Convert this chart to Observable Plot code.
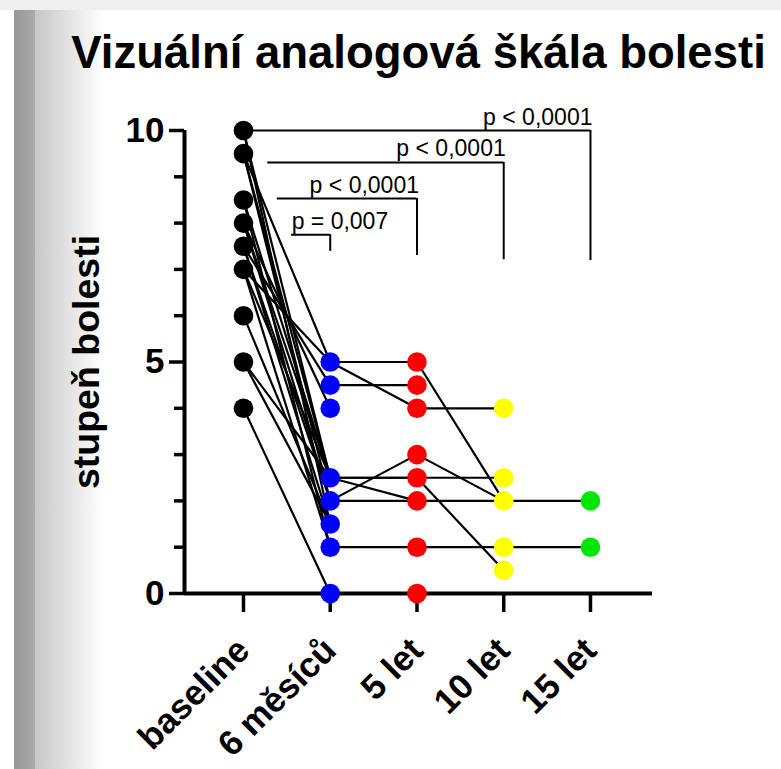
<!DOCTYPE html>
<html><head><meta charset="utf-8">
<script src="https://cdn.jsdelivr.net/npm/d3@7"></script>
<script src="https://cdn.jsdelivr.net/npm/@observablehq/plot@0.6"></script>
<style>
html,body{margin:0;padding:0;background:#fff;}
#wrap{position:relative;width:781px;height:769px;overflow:hidden;}
#top{position:absolute;left:0;top:0;width:781px;height:10px;background:#efefef;}
#shadow{position:absolute;left:14px;top:10px;width:95px;height:759px;background:linear-gradient(to right,#979797 0px,#a9a9a9 21px,#c7c7c7 21px,#ffffff 90px);}
#chart{position:absolute;left:0;top:0;}
#chart svg text{font-family:"Liberation Sans",Arial,sans-serif;}
#chart svg g[aria-label="x-axis tick label"] text,#chart svg g[aria-label="y-axis tick label"] text{font-weight:bold;}
</style></head><body>
<div id="wrap"><div id="top"></div><div id="shadow"></div><div id="chart"></div></div>
<script>
const categories = ["baseline", "6 měsíců", "5 let", "10 let", "15 let"];
const dotColors = ["#000000", "#0000ff", "#ff0000", "#ffff00", "#00e600"];
const title = "Vizuální analogová škála bolesti";
const yLabel = "stupeň bolesti";
const yMajorTicks = [0, 5, 10];
const yMinorTicks = [1, 2, 3, 4, 6, 7, 8, 9];
// each subject: values at baseline, 6 měsíců, 5 let, 10 let, 15 let (null = missing)
const subjects = [
  [10, 2.5, 2.5, 2.5, null],
  [10, 1.5, null, null, null],
  [9.5, 5, 5, 2, 2],
  [9.5, 2.5, 2, null, null],
  [9.5, 2, null, null, null],
  [8.5, 2.5, 2.5, 0.5, null],
  [8.5, 1, null, null, null],
  [8, 2, 3, 2, null],
  [8, 4, null, null, null],
  [7, 5, 4, 4, null],
  [7.5, 2, 2, 2, null],
  [7.5, 1.5, null, null, null],
  [7.5, 4.5, 4.5, null, null],
  [7, 2.5, null, null, null],
  [7, 1, 1, 1, 1],
  [8, 2.5, null, null, null],
  [6, 1.5, null, null, null],
  [5, 2.5, null, null, null],
  [5, 1.5, null, null, null],
  [4, 0, 0, null, null]
];
// significance brackets: from (start, in category units) to category index "to"
const bracketLabels = ["p < 0,0001", "p < 0,0001", "p < 0,0001", "p = 0,007"];
const bracketTo = [4, 3, 2, 1];
const bracketStart = [0, 0.28, 0.39, 0.555];
const bracketY = [10, 9.31, 8.53, 7.75];
const bracketBottom = [7.19, 7.21, 7.3, 7.39];
const bracketLabelAtStart = [false, false, false, true];

const xDomain = [-0.68, 4.715];

const long = [];
subjects.forEach((s, k) => s.forEach((v, t) => { if (v != null) long.push({subject: k, t, value: v}); }));
const dots = [];
const seen = new Set();
long.forEach(d => { const key = d.t + ":" + d.value; if (!seen.has(key)) { seen.add(key); dots.push(d); } });
const brackets = bracketLabels.map((label, i) => ({label, to: bracketTo[i], start: bracketStart[i], y: bracketY[i], bottom: bracketBottom[i], atStart: bracketLabelAtStart[i]}));

const plot = Plot.plot({
  width: 781, height: 769,
  marginLeft: 184, marginRight: 129, marginTop: 130, marginBottom: 176,
  style: {background: "transparent", fontFamily: "Liberation Sans, Arial, sans-serif", overflow: "visible"},
  x: {type: "linear", domain: xDomain},
  y: {domain: [0, 10]},
  marks: [
    Plot.axisY({ticks: yMajorTicks, tickSize: 15, tickPadding: 5, fontSize: 35, fontWeight: "bold", strokeWidth: 3.5, label: null, tickFormat: d => String(d)}),
    Plot.axisY({ticks: yMinorTicks, tickSize: 10, strokeWidth: 3.5, label: null, tickFormat: () => ""}),
    Plot.axisX({ticks: [0, 1, 2, 3, 4], tickFormat: i => categories[i], tickSize: 19, tickRotate: -45, tickPadding: 32, fontSize: 35, fontWeight: "bold", strokeWidth: 3.5, label: null}),
    Plot.ruleY([0], {strokeWidth: 4}),
    Plot.ruleX([xDomain[0]], {y1: 0, y2: 10, strokeWidth: 4}),
    Plot.ruleY(brackets, {y: "y", x1: "start", x2: "to", strokeWidth: 2}),
    Plot.ruleX(brackets, {x: "to", y1: "y", y2: "bottom", strokeWidth: 2}),
    Plot.text(brackets.filter(d => !d.atStart), {x: "to", y: "y", text: "label", textAnchor: "end", lineAnchor: "bottom", dx: 2, dy: -6, fontSize: 23, fontFamily: "Open Sans"}),
    Plot.text(brackets.filter(d => d.atStart), {x: "start", y: "y", text: "label", textAnchor: "start", lineAnchor: "bottom", dy: -6, fontSize: 23, fontFamily: "Open Sans"}),
    Plot.line(long, {x: "t", y: "value", z: "subject", stroke: "black", strokeWidth: 2.2}),
    Plot.dot(dots, {x: "t", y: "value", r: 9.8, fill: d => dotColors[d.t], stroke: "none"}),
    Plot.text([title], {frameAnchor: "top", lineAnchor: "middle", dy: -77, fontSize: 45.5, fontWeight: "bold"}),
    Plot.text([yLabel], {frameAnchor: "left", textAnchor: "middle", rotate: -90, dx: -98, fontSize: 37.5, fontWeight: "bold"})
  ]
});
document.getElementById("chart").appendChild(plot);
</script>
</body></html>
